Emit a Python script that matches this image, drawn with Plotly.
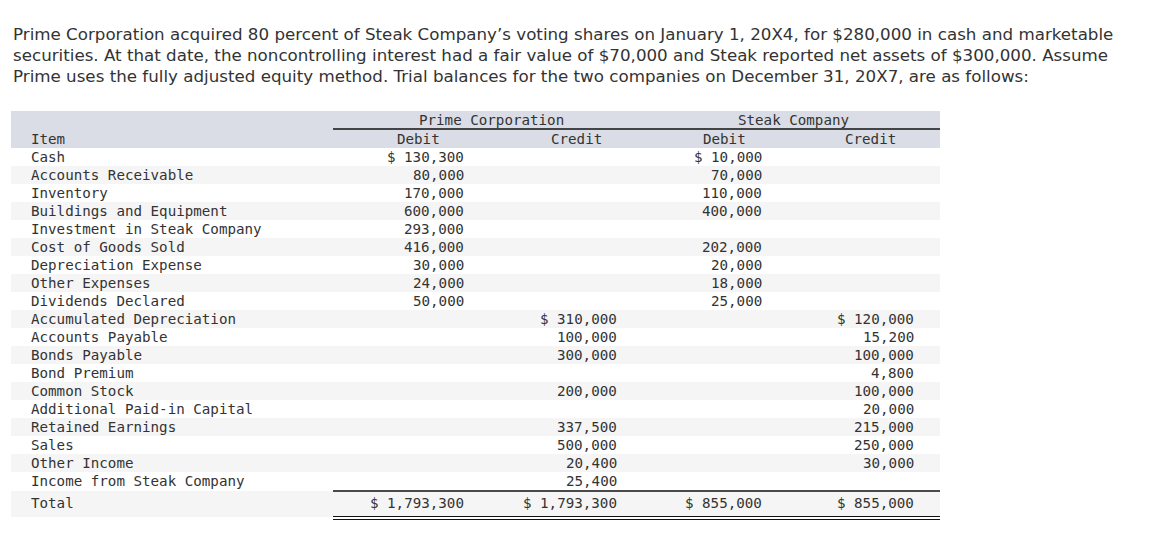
import plotly.graph_objects as go

intro_lines = [
    "Prime Corporation acquired 80 percent of Steak Company\u2019s voting shares on January 1, 20X4, for $280,000 in cash and marketable",
    "securities. At that date, the noncontrolling interest had a fair value of $70,000 and Steak reported net assets of $300,000. Assume",
    "Prime uses the fully adjusted equity method. Trial balances for the two companies on December 31, 20X7, are as follows:",
]

items = [
    "Cash", "Accounts Receivable", "Inventory", "Buildings and Equipment",
    "Investment in Steak Company", "Cost of Goods Sold", "Depreciation Expense",
    "Other Expenses", "Dividends Declared", "Accumulated Depreciation",
    "Accounts Payable", "Bonds Payable", "Bond Premium", "Common Stock",
    "Additional Paid-in Capital", "Retained Earnings", "Sales", "Other Income",
    "Income from Steak Company",
]
prime_debit = [130300, 80000, 170000, 600000, 293000, 416000, 30000, 24000, 50000,
               None, None, None, None, None, None, None, None, None, None]
prime_credit = [None, None, None, None, None, None, None, None, None,
                310000, 100000, 300000, None, 200000, None, 337500, 500000, 20400, 25400]
steak_debit = [10000, 70000, 110000, 400000, None, 202000, 20000, 18000, 25000,
               None, None, None, None, None, None, None, None, None, None]
steak_credit = [None, None, None, None, None, None, None, None, None,
                120000, 15200, 100000, 4800, 100000, 20000, 215000, 250000, 30000, None]
totals = [1793300, 1793300, 855000, 855000]

groups = ["Prime Corporation", "Steak Company"]
subheads = ["Debit", "Credit", "Debit", "Credit"]

TEXT = "#333333"
MONO = "DejaVu Sans Mono"
FS = 14.2

col_right = [466, 619, 764, 916]
sub_center = [418, 576, 724, 870]
group_center = [491, 793]
row0_y = 157
row_h = 18
total_y = 503
tbl_left, tbl_right, num_left = 11, 940, 333

shapes = []
annotations = []

def fmt(v, first):
    s = f"{v:,}"
    return ("$ " + s) if first else s

shapes.append(dict(type="rect", x0=tbl_left, x1=tbl_right, y0=111, y1=148,
                   fillcolor="#dadde5", line_width=0, layer="below"))
for i in range(len(items)):
    if i % 2 == 1:
        yc = row0_y + i * row_h
        shapes.append(dict(type="rect", x0=tbl_left, x1=tbl_right, y0=yc - 9, y1=yc + 9,
                           fillcolor="#f5f5f5", line_width=0, layer="below"))
shapes.append(dict(type="rect", x0=tbl_left, x1=tbl_right, y0=491, y1=517,
                   fillcolor="#f5f5f5", line_width=0, layer="below"))
shapes.append(dict(type="line", x0=num_left, x1=tbl_right, y0=129, y1=129,
                   line=dict(color="#111111", width=1.3)))
shapes.append(dict(type="line", x0=num_left, x1=tbl_right, y0=491, y1=491,
                   line=dict(color="#111111", width=1.3)))
for yy in (516.5, 519.5):
    shapes.append(dict(type="line", x0=num_left, x1=tbl_right, y0=yy, y1=yy,
                       line=dict(color="#111111", width=1.2)))

for k, line in enumerate(intro_lines):
    annotations.append(dict(x=11, y=34 + k * 21, text=line, showarrow=False,
                            xanchor="left", yanchor="middle",
                            font=dict(family="DejaVu Sans", size=16.7, color=TEXT)))

for g, xc in zip(groups, group_center):
    annotations.append(dict(x=xc, y=120, text=g, showarrow=False, xanchor="center",
                            yanchor="middle", font=dict(family=MONO, size=FS, color=TEXT)))
for s, xc in zip(subheads, sub_center):
    annotations.append(dict(x=xc, y=139, text=s, showarrow=False, xanchor="center",
                            yanchor="middle", font=dict(family=MONO, size=FS, color=TEXT)))

label_y = [row0_y + i * row_h for i in range(len(items))]
for t, y in zip(items + ["Item", "Total"], label_y + [139, total_y]):
    annotations.append(dict(x=29, y=y, text=t, showarrow=False, xanchor="left",
                            yanchor="middle", font=dict(family=MONO, size=FS, color=TEXT)))

fig = go.Figure()
fig.add_trace(go.Scatter(x=[0, 1155], y=[0, 538], mode="markers",
                         marker=dict(opacity=0), hoverinfo="skip"))

for col, xr, tot in zip([prime_debit, prime_credit, steak_debit, steak_credit], col_right, totals):
    first = True
    for i, v in enumerate(col):
        if v is None:
            continue
        annotations.append(dict(x=xr, y=row0_y + i * row_h, text=fmt(v, first), showarrow=False,
                                xanchor="right", yanchor="middle",
                                font=dict(family=MONO, size=FS, color=TEXT)))
        first = False
    annotations.append(dict(x=xr, y=total_y, text=fmt(tot, True), showarrow=False,
                            xanchor="right", yanchor="middle",
                            font=dict(family=MONO, size=FS, color=TEXT)))

fig.update_layout(
    width=1155, height=538,
    margin=dict(l=0, r=0, t=0, b=0),
    paper_bgcolor="white", plot_bgcolor="white",
    showlegend=False,
    xaxis=dict(range=[0, 1155], visible=False, fixedrange=True),
    yaxis=dict(range=[538, 0], visible=False, fixedrange=True),
    shapes=shapes, annotations=annotations,
)

fig.write_html("out.html", config={"displayModeBar": False},
               post_script="document.body.style.margin='0';")
